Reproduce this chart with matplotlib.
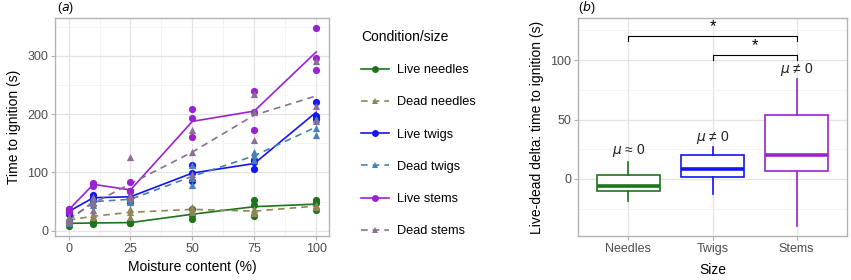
import numpy as np
import matplotlib
matplotlib.use("Agg")
import matplotlib.pyplot as plt
from matplotlib.lines import Line2D

plt.rcParams['font.family'] = ['Liberation Sans', 'DejaVu Sans']
plt.rcParams['mathtext.fontset'] = 'dejavusans'

# ---- panel (a) data: three replicates per moisture level ----
moisture = [0, 10, 25, 50, 75, 100]

live_needles = [[16, 13, 9], [16, 13, 11], [15, 14, 13], [38, 27, 20], [53, 45, 26], [53, 48, 36]]
dead_needles = [[22, 18, 15], [28, 24, 23], [38, 33, 24], [41, 36, 33], [37, 34, 30], [45, 42, 40]]
live_twigs = [[38, 32, 29], [62, 56, 52], [68, 57, 50], [112, 99, 86], [122, 118, 106], [221, 197, 192]]
dead_twigs = [[21, 17, 14], [55, 50, 45], [58, 54, 50], [112, 90, 78], [135, 130, 121], [192, 177, 165]]
live_stems = [[38, 36, 33], [82, 80, 77], [84, 69, 57], [209, 193, 161], [240, 204, 172], [347, 297, 276]]
dead_stems = [[24, 20, 17], [58, 48, 36], [126, 60, 56], [173, 135, 97], [235, 204, 156], [292, 214, 188]]

series_names = ["Live needles", "Dead needles", "Live twigs", "Dead twigs", "Live stems", "Dead stems"]
series_data = [live_needles, dead_needles, live_twigs, dead_twigs, live_stems, dead_stems]
series_colors = ["#1c741c", "#8f8655", "#1414f5", "#4682b4", "#9a22d0", "#8c6e92"]

# ---- panel (b) data: box summaries of live-dead delta ----
sizes = ["Needles", "Twigs", "Stems"]
q1 = [-10, 2, 7]
med = [-6, 8, 20.5]
q3 = [3, 20, 54]
whislo = [-18.5, -12.5, -40]
whishi = [14.5, 27, 84]
box_colors = ["#1c741c", "#1414f5", "#9a22d0"]
mu_labels = [r"$\mu$ ≈ 0", r"$\mu$ ≠ 0", r"$\mu$ ≠ 0"]
mu_y = [24, 35, 92]
# significance brackets: (from, to, y, tip)
brackets = [(1, 3, 120, 116), (2, 3, 104, 100)]

grid_major = "#e3e3e3"
grid_minor = "#f0f0f0"
frame_col = "#b3b3b3"
tick_col = "#4d4d4d"

fig = plt.figure(figsize=(8.51, 2.8), dpi=100)
ax1 = fig.add_axes([55 / 851, 44 / 280, 274 / 851, 218 / 280])
ax2 = fig.add_axes([578 / 851, 44 / 280, 269 / 851, 218 / 280])


def style(ax):
    ax.set_axisbelow(True)
    for s in ax.spines.values():
        s.set_color(frame_col)
        s.set_linewidth(1.0)
    ax.tick_params(axis='both', which='major', length=3, color=frame_col, labelsize=9, labelcolor=tick_col, pad=2)
    ax.tick_params(axis='both', which='minor', length=0)
    ax.grid(True, which='major', color=grid_major, lw=0.9)
    ax.grid(True, which='minor', color=grid_minor, lw=0.5)


# panel (a)
style(ax1)
handles = []
for name, data, col in zip(series_names, series_data, series_colors):
    arr = np.array(data, dtype=float)
    means = arr.mean(axis=1)
    dead = name.startswith("Dead")
    ls = (0, (4, 3)) if dead else "-"
    mk = "^" if dead else "o"
    ax1.plot(moisture, means, color=col, lw=1.2, ls=ls, zorder=2)
    for j in range(arr.shape[1]):
        ax1.scatter(moisture, arr[:, j], color=col, marker=mk, s=27, linewidths=0, zorder=3)
    handles.append(Line2D([], [], color=col, lw=1.2, ls=ls, marker=mk, markersize=5,
                          markeredgewidth=0, label=name))

ax1.set_xlim(-5.5, 105.2)
ax1.set_ylim(-9, 365)
ax1.set_xticks([0, 25, 50, 75, 100])
ax1.set_xticks([12.5, 37.5, 62.5, 87.5], minor=True)
ax1.set_yticks([0, 100, 200, 300])
ax1.set_yticks([50, 150, 250, 350], minor=True)
ax1.set_xlabel("Moisture content (%)", fontsize=10, labelpad=4)
ax1.set_ylabel("Time to ignition (s)", fontsize=10, labelpad=4)
fig.text(57 / 851, 1 - 8 / 280, r"($\it{a}$)", fontsize=9, va='center', ha='left')

leg = fig.legend(handles=handles, loc='upper left', bbox_to_anchor=(356 / 851, 1 - 25 / 280),
                 frameon=False, title="Condition/size", fontsize=9.2, title_fontsize=10,
                 handlelength=2.2, labelspacing=1.58, handletextpad=0.6, borderaxespad=0)
leg._legend_box.align = "left"

# panel (b)
style(ax2)
stats = []
for i in range(len(sizes)):
    stats.append(dict(q1=q1[i], med=med[i], q3=q3[i], whislo=whislo[i], whishi=whishi[i], fliers=[]))
pos = np.arange(1, len(sizes) + 1)
bp = ax2.bxp(stats, positions=pos, widths=0.75, showfliers=False, showcaps=False, patch_artist=True)
for i, col in enumerate(box_colors):
    bp['boxes'][i].set(facecolor='white', edgecolor=col, linewidth=1.2)
    bp['medians'][i].set(color=col, linewidth=2.6)
    for w in bp['whiskers'][2 * i:2 * i + 2]:
        w.set(color=col, linewidth=1.2)
for p, lab, yv in zip(pos, mu_labels, mu_y):
    ax2.text(p, yv, lab, ha='center', va='center', fontsize=10, color='#222222')
for a, b, yv, tip in brackets:
    ax2.plot([a, a, b, b], [tip, yv, yv, tip], color='black', lw=0.8)
    ax2.text((a + b) / 2, yv + 2, "*", ha='center', va='bottom', fontsize=12)

ax2.set_xlim(0.4, 3.6)
ax2.set_ylim(-48, 135.5)
ax2.set_xticks(pos)
ax2.set_xticklabels(sizes)
ax2.set_yticks([0, 50, 100])
ax2.set_yticks([-25, 25, 75, 125], minor=True)
ax2.set_xlabel("Size", fontsize=10, labelpad=6)
ax2.set_ylabel("Live-dead delta: time to ignition (s)", fontsize=10, labelpad=4)
fig.text(578 / 851, 1 - 8 / 280, r"($\it{b}$)", fontsize=9, va='center', ha='left')

fig.savefig("out.png", dpi=100)
